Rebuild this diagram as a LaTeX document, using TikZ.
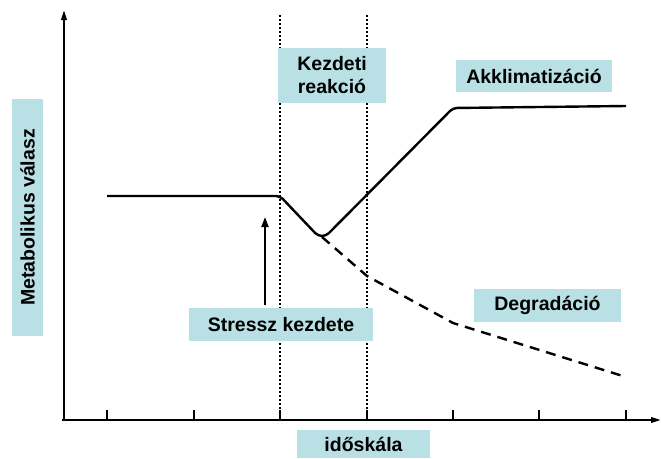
\documentclass[tikz,border=0pt]{standalone}
\usepackage{fontspec}
\setmainfont{Liberation Sans}
\usetikzlibrary{arrows.meta}
\definecolor{boxteal}{RGB}{185,224,228}
\begin{document}
\begin{tikzpicture}[x=1pt,y=-1pt,
  lbl/.style={fill=boxteal, inner sep=0pt, align=center,
    font=\fontsize{19.5}{23}\selectfont\bfseries},
  axis/.style={line width=2pt, -{Triangle[length=10pt,width=5.5pt]}},
  tick/.style={line width=2pt},
  dotline/.style={line width=2pt, dash pattern=on 2pt off 2pt},
  curve/.style={line width=2.4pt, line join=round},
  dcurve/.style={line width=2.4pt, dash pattern=on 10pt off 7pt}]
\useasboundingbox (0,0) rectangle (661,458);
% axes
\coordinate (O) at (64,420);
\coordinate (ytop) at (64,10);
\coordinate (xend) at (661,420);
\draw[axis] (O) -- (ytop);
\draw[axis] (62,420) -- (xend);
\foreach \x in {107,194,280,367,453,539,626}
  \draw[tick] (\x,420) -- (\x,410);
% dotted verticals
\coordinate (d1t) at (280,15); \coordinate (d1b) at (280,420);
\coordinate (d2t) at (367,15); \coordinate (d2b) at (367,420);
\draw[dotline] (d1t) -- (d1b);
\draw[dotline] (d2t) -- (d2b);
% curves
\coordinate (c0) at (107,196);
\coordinate (c1) at (280,196);
\coordinate (c2) at (318,236);
\coordinate (c3) at (326,236);
\coordinate (c4) at (453,108);
\coordinate (c5) at (626,106);
\draw[curve, rounded corners=4pt] (c0) -- (c1) -- (c2) -- (c3) -- (c4) -- (c5);
\coordinate (e0) at (322,237);
\coordinate (e1) at (367,276);
\coordinate (e2) at (453,323);
\coordinate (e3) at (626,377);
\draw[dcurve] (e0) -- (e1) -- (e2) -- (e3);
% stress arrow
\coordinate (sa) at (265,305);
\coordinate (sb) at (265,217);
\draw[line width=2pt, -{Triangle[length=10pt,width=7pt]}] (sa) -- (sb);
% labels
\node[lbl, minimum width=108pt, minimum height=55pt] (kez) at (332,75.5) {Kezdeti\\reakció};
\node[lbl, minimum width=156pt, minimum height=32pt] (akk) at (534,76) {Akklimatizáció};
\node[lbl, minimum width=237pt, minimum height=31pt, rotate=90] (met) at (27.5,217.5) {Metabolikus válasz};
\node[lbl, minimum width=184pt, minimum height=33pt] (str) at (281,324.5) {Stressz kezdete};
\node[lbl, minimum width=147pt, minimum height=33pt] (deg) at (547.5,305.5) {Degradáció};
\node[lbl, minimum width=133pt, minimum height=28pt] (ido) at (363.5,444) {időskála};
\end{tikzpicture}
\end{document}
